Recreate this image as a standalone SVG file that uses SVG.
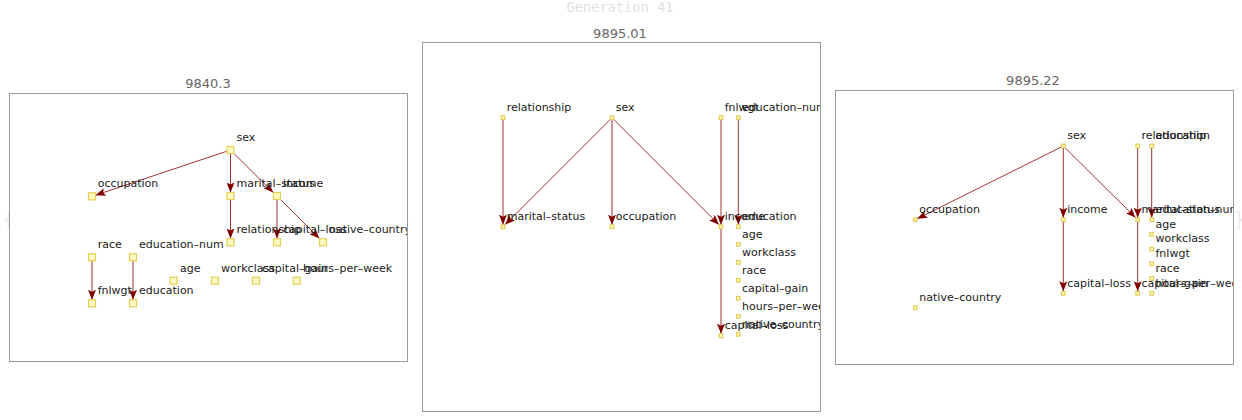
<svg xmlns="http://www.w3.org/2000/svg" width="1242" height="420" viewBox="0 0 1242 420">
<style>
.frame{fill:#fff;stroke:#949f9f;stroke-width:1}
.ptitle{font-family:"DejaVu Sans",sans-serif;font-size:13px;fill:#666;text-anchor:middle}
.gen{font-family:"DejaVu Sans Mono",monospace;font-size:13.7px;fill:#e2e2e2;text-anchor:middle}
.lbl{font-family:"DejaVu Sans",sans-serif;font-size:11px;fill:#1a1a1a}
.nb{fill:#fff9c4;stroke:#e3cf55;stroke-width:1.2}
.ns{fill:#fff9c4;stroke:#e3cf55;stroke-width:1.2}
.e{stroke:#8b0000;stroke-opacity:0.8;stroke-width:1;fill:none;marker-end:url(#ah)}
.faint{font-family:"DejaVu Sans",sans-serif;font-size:20px;fill:#ececec}
</style>
<defs>
<marker id="ah" markerUnits="userSpaceOnUse" markerWidth="11" markerHeight="8" refX="10" refY="4" orient="auto">
<path d="M0,0 L10,4 L0,8 L2,4 z" fill="#800000"/>
</marker>
<clipPath id="c1"><rect x="10" y="94" width="397" height="267"/></clipPath>
<clipPath id="c2"><rect x="423" y="43" width="397" height="368"/></clipPath>
<clipPath id="c3"><rect x="836" y="91" width="397" height="273"/></clipPath>
</defs>
<rect width="1242" height="420" fill="#fff"/>
<text class="gen" x="620" y="12">Generation 41</text>
<text class="faint" x="2" y="226">{</text>
<text class="faint" x="409" y="222" style="font-size:11px">,</text>
<text class="faint" x="821" y="222" style="font-size:11px">,</text>
<text class="faint" x="1233" y="226">}</text>

<!-- Panel 1 -->
<g id="panel1">
<text class="ptitle" x="208" y="88">9840.3</text>
<rect class="frame" x="9.5" y="93.5" width="398" height="268"/>
<g clip-path="url(#c1)">
<g id="p1-edges">
<line class="e" x1="230.5" y1="150" x2="95.5" y2="195.2"/>
<line class="e" x1="230.5" y1="150" x2="230.5" y2="192.5"/>
<line class="e" x1="230.5" y1="150" x2="273.2" y2="192.5"/>
<line class="e" x1="230.5" y1="196" x2="230.5" y2="238.5"/>
<line class="e" x1="277" y1="196" x2="277" y2="238.5"/>
<line class="e" x1="277" y1="196" x2="319.5" y2="238.5"/>
<line class="e" x1="92" y1="257.3" x2="92" y2="299.8"/>
<line class="e" x1="133" y1="257.3" x2="133" y2="299.8"/>
</g>
<g id="p1-sex"><rect class="nb" x="227" y="146.5" width="7" height="7"/><text class="lbl" x="236.5" y="140.5">sex</text></g>
<g id="p1-occupation"><rect class="nb" x="88.5" y="192.8" width="7" height="7"/><text class="lbl" x="97.7" y="186.7">occupation</text></g>
<g id="p1-marital-status"><rect class="nb" x="227" y="192.5" width="7" height="7"/><text class="lbl" x="236.5" y="186.7">marital–status</text></g>
<g id="p1-income"><rect class="nb" x="273.5" y="192.5" width="7" height="7"/><text class="lbl" x="283" y="186.7">income</text></g>
<g id="p1-relationship"><rect class="nb" x="227" y="238.8" width="7" height="7"/><text class="lbl" x="236.5" y="232.7">relationship</text></g>
<g id="p1-capital-loss"><rect class="nb" x="273.5" y="238.8" width="7" height="7"/><text class="lbl" x="283" y="232.7">capital–loss</text></g>
<g id="p1-native-country"><rect class="nb" x="319.5" y="238.8" width="7" height="7"/><text class="lbl" x="329" y="232.7">native–country</text></g>
<g id="p1-race"><rect class="nb" x="88.5" y="253.8" width="7" height="7"/><text class="lbl" x="97.7" y="247.7">race</text></g>
<g id="p1-education-num"><rect class="nb" x="129.5" y="253.8" width="7" height="7"/><text class="lbl" x="139" y="247.7">education–num</text></g>
<g id="p1-age"><rect class="nb" x="170.2" y="277.2" width="7" height="7"/><text class="lbl" x="180" y="271.5">age</text></g>
<g id="p1-workclass"><rect class="nb" x="211.5" y="277.2" width="7" height="7"/><text class="lbl" x="221" y="271.5">workclass</text></g>
<g id="p1-capital-gain"><rect class="nb" x="252.5" y="277.2" width="7" height="7"/><text class="lbl" x="262" y="271.5">capital–gain</text></g>
<g id="p1-hours-per-week"><rect class="nb" x="293.2" y="277.2" width="7" height="7"/><text class="lbl" x="303" y="271.5">hours–per–week</text></g>
<g id="p1-fnlwgt"><rect class="nb" x="88.5" y="299.8" width="7" height="7"/><text class="lbl" x="97.7" y="294">fnlwgt</text></g>
<g id="p1-education"><rect class="nb" x="129.5" y="299.8" width="7" height="7"/><text class="lbl" x="139" y="294">education</text></g>
</g>
</g>

<!-- Panel 2 -->
<g id="panel2">
<text class="ptitle" x="620" y="38">9895.01</text>
<rect class="frame" x="422.5" y="42.5" width="398" height="369"/>
<g clip-path="url(#c2)">
<g id="p2-edges">
<line class="e" x1="503" y1="117.7" x2="503" y2="224.7"/>
<line class="e" x1="612" y1="117.7" x2="505" y2="224.7"/>
<line class="e" x1="612" y1="117.7" x2="612" y2="224.7"/>
<line class="e" x1="612" y1="117.7" x2="719" y2="224.7"/>
<line class="e" x1="721" y1="117.7" x2="721" y2="224.7"/>
<line class="e" x1="721" y1="226.7" x2="721" y2="333.7"/>
<line class="e" x1="738.3" y1="117.7" x2="738.3" y2="224.7"/>
</g>
<g id="p2-relationship"><rect class="ns" x="501.2" y="115.9" width="3.6" height="3.6"/><text class="lbl" x="506.7" y="110.5">relationship</text></g>
<g id="p2-sex"><rect class="ns" x="610.2" y="115.9" width="3.6" height="3.6"/><text class="lbl" x="615.7" y="110.5">sex</text></g>
<g id="p2-fnlwgt"><rect class="ns" x="719.2" y="115.9" width="3.6" height="3.6"/><text class="lbl" x="724.7" y="110.5">fnlwgt</text></g>
<g id="p2-education-num"><rect class="ns" x="736.5" y="115.9" width="3.6" height="3.6"/><text class="lbl" x="742" y="110.5">education–num</text></g>
<g id="p2-marital-status"><rect class="ns" x="501.2" y="224.9" width="3.6" height="3.6"/><text class="lbl" x="506.7" y="219.5">marital–status</text></g>
<g id="p2-occupation"><rect class="ns" x="610.2" y="224.9" width="3.6" height="3.6"/><text class="lbl" x="615.7" y="219.5">occupation</text></g>
<g id="p2-income"><rect class="ns" x="719.2" y="224.9" width="3.6" height="3.6"/><text class="lbl" x="724.7" y="219.5">income</text></g>
<g id="p2-education"><rect class="ns" x="736.5" y="224.9" width="3.6" height="3.6"/><text class="lbl" x="742" y="219.5">education</text></g>
<g id="p2-age"><rect class="ns" x="736.5" y="242.5" width="3.6" height="3.6"/><text class="lbl" x="742" y="237.5">age</text></g>
<g id="p2-workclass"><rect class="ns" x="736.5" y="260.5" width="3.6" height="3.6"/><text class="lbl" x="742" y="255.5">workclass</text></g>
<g id="p2-race"><rect class="ns" x="736.5" y="278.5" width="3.6" height="3.6"/><text class="lbl" x="742" y="273.5">race</text></g>
<g id="p2-capital-gain"><rect class="ns" x="736.5" y="296.5" width="3.6" height="3.6"/><text class="lbl" x="742" y="291.5">capital–gain</text></g>
<g id="p2-hours-per-week"><rect class="ns" x="736.5" y="314.5" width="3.6" height="3.6"/><text class="lbl" x="742" y="309.5">hours–per–week</text></g>
<g id="p2-native-country"><rect class="ns" x="736.5" y="332.5" width="3.6" height="3.6"/><text class="lbl" x="742" y="327.5">native–country</text></g>
<g id="p2-capital-loss"><rect class="ns" x="719.2" y="333.9" width="3.6" height="3.6"/><text class="lbl" x="724.7" y="328.5">capital–loss</text></g>
</g>
</g>

<!-- Panel 3 -->
<g id="panel3">
<text class="ptitle" x="1033" y="85">9895.22</text>
<rect class="frame" x="835.5" y="90.5" width="398" height="274"/>
<g clip-path="url(#c3)">
<g id="p3-edges">
<line class="e" x1="1063.3" y1="146" x2="917.3" y2="218.7"/>
<line class="e" x1="1063.3" y1="146" x2="1063.3" y2="217.7"/>
<line class="e" x1="1063.3" y1="146" x2="1135.7" y2="217.7"/>
<line class="e" x1="1137.7" y1="146" x2="1137.7" y2="217.7"/>
<line class="e" x1="1151.7" y1="146" x2="1151.7" y2="217.7"/>
<line class="e" x1="1063.3" y1="219.7" x2="1063.3" y2="291.3"/>
<line class="e" x1="1137.7" y1="219.7" x2="1137.7" y2="291.3"/>
</g>
<g id="p3-sex"><rect class="ns" x="1061.5" y="144.2" width="3.6" height="3.6"/><text class="lbl" x="1067.3" y="138.7">sex</text></g>
<g id="p3-relationship"><rect class="ns" x="1135.9" y="144.2" width="3.6" height="3.6"/><text class="lbl" x="1141.5" y="138.7">relationship</text></g>
<g id="p3-education"><rect class="ns" x="1149.9" y="144.2" width="3.6" height="3.6"/><text class="lbl" x="1155.5" y="138.7">education</text></g>
<g id="p3-occupation"><rect class="ns" x="913.5" y="217.9" width="3.6" height="3.6"/><text class="lbl" x="919.3" y="212.5">occupation</text></g>
<g id="p3-income"><rect class="ns" x="1061.5" y="217.9" width="3.6" height="3.6"/><text class="lbl" x="1067.3" y="212.5">income</text></g>
<g id="p3-marital-status"><rect class="ns" x="1135.9" y="217.9" width="3.6" height="3.6"/><text class="lbl" x="1141.5" y="212.5">marital–status</text></g>
<g id="p3-education-num"><rect class="ns" x="1149.9" y="217.9" width="3.6" height="3.6"/><text class="lbl" x="1155.5" y="212.5">education–num</text></g>
<g id="p3-age"><rect class="ns" x="1149.9" y="232.5" width="3.6" height="3.6"/><text class="lbl" x="1155.5" y="227.7">age</text></g>
<g id="p3-workclass"><rect class="ns" x="1149.9" y="247.3" width="3.6" height="3.6"/><text class="lbl" x="1155.5" y="242.3">workclass</text></g>
<g id="p3-fnlwgt"><rect class="ns" x="1149.9" y="261.9" width="3.6" height="3.6"/><text class="lbl" x="1155.5" y="256.7">fnlwgt</text></g>
<g id="p3-race"><rect class="ns" x="1149.9" y="276.7" width="3.6" height="3.6"/><text class="lbl" x="1155.5" y="271.7">race</text></g>
<g id="p3-hours-per-week"><rect class="ns" x="1149.9" y="291.5" width="3.6" height="3.6"/><text class="lbl" x="1155.5" y="286.7">hours–per–week</text></g>
<g id="p3-capital-loss"><rect class="ns" x="1061.5" y="291.5" width="3.6" height="3.6"/><text class="lbl" x="1067.3" y="286.7">capital–loss</text></g>
<g id="p3-capital-gain"><rect class="ns" x="1135.9" y="291.5" width="3.6" height="3.6"/><text class="lbl" x="1141.5" y="286.7">capital–gain</text></g>
<g id="p3-native-country"><rect class="ns" x="913.5" y="305.9" width="3.6" height="3.6"/><text class="lbl" x="919.3" y="300.7">native–country</text></g>
</g>
</g>
</svg>
